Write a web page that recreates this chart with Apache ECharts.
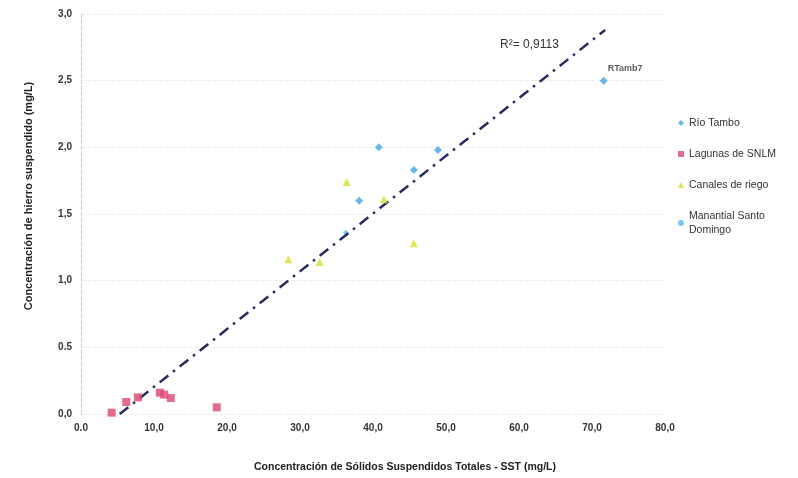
<!DOCTYPE html>
<html><head><meta charset="utf-8">
<script src="https://cdn.jsdelivr.net/npm/echarts@6/dist/echarts.min.js"></script>
<style>html,body{margin:0;padding:0;background:#fff}#c{width:798px;height:478px}</style>
</head><body><div id="c"></div>
<script>
const rioTambo = [[40.8, 2.00], [48.9, 1.98], [45.6, 1.83], [38.1, 1.60], [71.6, 2.50]];
const lagunas = [[4.2, 0.01], [6.2, 0.09], [7.8, 0.125], [10.8, 0.16], [11.4, 0.145], [12.3, 0.12], [18.6, 0.05]];
const canales = [[28.4, 1.16], [32.7, 1.14], [36.4, 1.74], [41.5, 1.61], [45.6, 1.28]];
const manantial = [[36.3, 1.36]];
const trendX = [5.3, 71.8];
const trendY = [0.0, 2.88];
const xTicks = ['0.0', '10,0', '20,0', '30,0', '40,0', '50,0', '60,0', '70,0', '80,0'];
const yTicks = ['0,0', '0.5', '1,0', '1,5', '2,0', '2,5', '3,0'];
const r2Text = 'R²= 0,9113';
const highlightLabel = 'RTamb7';

const font = 'Liberation Sans, Arial, sans-serif';
const chart = echarts.init(document.getElementById('c'), null, {renderer: 'canvas'});
const rio = rioTambo.map((p, i) => i === 4 ? {value: p, label: {show: true, formatter: highlightLabel, position: [8, -13], fontSize: 9, fontWeight: 'bold', color: '#333', fontFamily: font}} : p);
chart.setOption({
  animation: false,
  grid: {left: 81, right: 133, top: 14, bottom: 60},
  xAxis: {
    type: 'value', min: 0, max: 80, interval: 10,
    name: 'Concentración de Sólidos Suspendidos Totales - SST (mg/L)',
    nameLocation: 'middle', nameGap: 48,
    nameTextStyle: {fontSize: 10.5, fontWeight: 'bold', color: '#222', fontFamily: font, padding: [0, 0, 0, 64]},
    axisLine: {show: false}, axisTick: {show: false}, splitLine: {show: false},
    axisLabel: {formatter: (v) => xTicks[Math.round(v / 10)], fontSize: 10, fontWeight: 'bold', color: '#333', margin: 9, fontFamily: font}
  },
  yAxis: {
    type: 'value', min: 0, max: 3, interval: 0.5,
    name: 'Concentración de hierro suspendido (mg/L)',
    nameLocation: 'middle', nameGap: 47,
    nameTextStyle: {fontSize: 11, fontWeight: 'bold', color: '#222', fontFamily: font, padding: [0, 0, 0, 36]},
    axisLine: {show: true, lineStyle: {color: '#ccc', type: 'dashed', width: 1}},
    axisTick: {show: false},
    splitLine: {show: true, lineStyle: {color: '#ececec', type: 'dashed', width: 1}},
    axisLabel: {formatter: (v) => yTicks[Math.round(v / 0.5)], fontSize: 10, fontWeight: 'bold', color: '#333', margin: 9, fontFamily: font}
  },
  legend: {
    orient: 'vertical', left: 673, top: 111, itemWidth: 6, itemHeight: 6, itemGap: 17,
    textStyle: {fontSize: 10.5, color: '#333', fontFamily: font, lineHeight: 14},
    data: [
      {name: 'Río Tambo', icon: 'diamond'},
      {name: 'Lagunas de SNLM', icon: 'rect'},
      {name: 'Canales de riego', icon: 'triangle'},
      {name: 'Manantial Santo\nDomingo', icon: 'circle'}
    ]
  },
  graphic: [{type: 'text', left: 500, top: 39, style: {text: r2Text, font: '12px ' + font, fill: '#333'}}],
  series: [
    {name: 'trend', type: 'line', data: trendX.map((x, i) => [x, trendY[i]]), symbol: 'none', silent: true,
     lineStyle: {color: '#2b2a5e', width: 2.5, type: [11, 6, 2.5, 6]}, z: 1},
    {name: 'Río Tambo', type: 'scatter', symbol: 'diamond', symbolSize: 8, data: rio, itemStyle: {color: '#3ea6e3'}, z: 3},
    {name: 'Lagunas de SNLM', type: 'scatter', symbol: 'rect', symbolSize: 8, data: lagunas, itemStyle: {color: '#d9476f'}, z: 3},
    {name: 'Canales de riego', type: 'scatter', symbol: 'triangle', symbolSize: 8, data: canales, itemStyle: {color: '#d8de2e'}, z: 3},
    {name: 'Manantial Santo\nDomingo', type: 'scatter', symbol: 'diamond', symbolSize: 6, data: manantial, itemStyle: {color: '#52bde8'}, z: 0}
  ]
});
</script></body></html>
